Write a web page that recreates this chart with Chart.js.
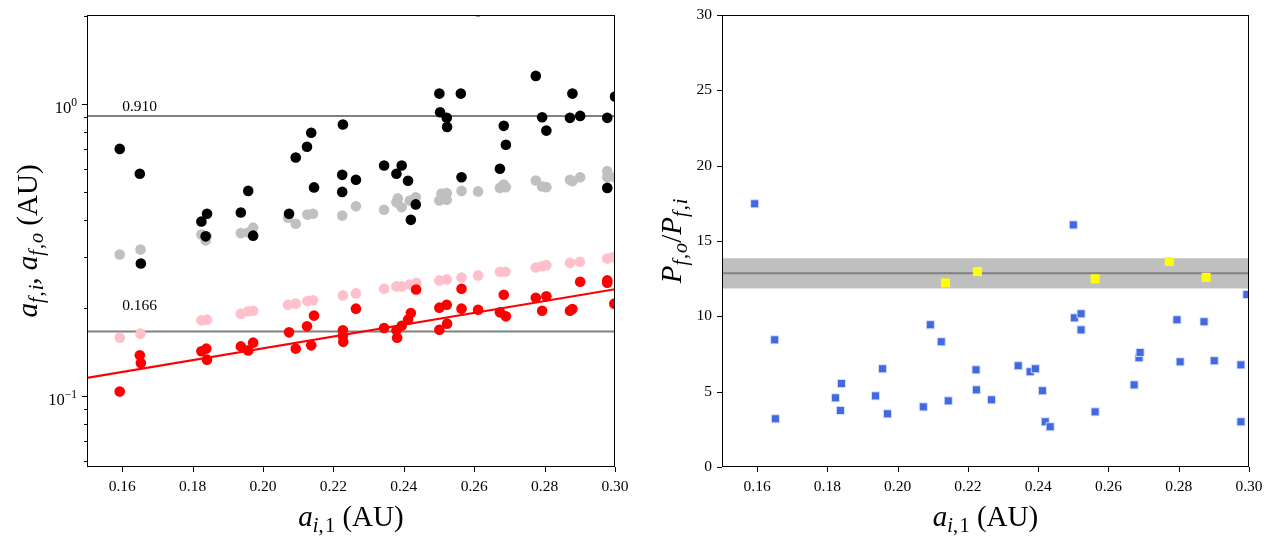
<!DOCTYPE html>
<html><head><meta charset="utf-8">
<script src="https://cdn.jsdelivr.net/npm/chart.js@4/dist/chart.umd.min.js"></script>
<style>
html,body{margin:0;padding:0;background:#fff;}
#wrap{position:relative;width:1273px;height:539px;background:#fff;}
#c1{position:absolute;left:0;top:0;}
#c2{position:absolute;left:640px;top:0;}
</style></head><body>
<div id="wrap"><canvas id="c1" width="640" height="539"></canvas><canvas id="c2" width="633" height="539"></canvas></div>
<script>
// ---------- data ----------
const xTickValues = [0.16,0.18,0.20,0.22,0.24,0.26,0.28,0.30];
const logTicks = [0.06,0.07,0.08,0.09,0.1,0.2,0.3,0.4,0.5,0.6,0.7,0.8,0.9,1,2];
const logMajor = [0.1,1];
const logMajorLabels = [['10','\u22121'],['10','0']];
const ratioTicks = [0,5,10,15,20,25,30];

const blackX = [0.1593,0.1650,0.1653,0.1825,0.1841,0.1837,0.1937,0.1958,0.1972,0.2074,0.2093,0.2125,0.2137,0.2145,0.2227,0.2225,0.2225,0.2264,0.2344,0.2379,0.2394,0.2412,0.2434,0.2420,0.2501,0.2503,0.2522,0.2523,0.2562,0.2564,0.2611,0.2673,0.2684,0.2690,0.2775,0.2793,0.2805,0.2879,0.2872,0.2901,0.2978,0.2978,0.3000];
const blackY = [0.702,0.577,0.284,0.396,0.421,0.352,0.425,0.504,0.354,0.421,0.656,0.714,0.797,0.518,0.851,0.572,0.500,0.550,0.616,0.577,0.616,0.546,0.453,0.401,1.086,0.937,0.897,0.835,1.086,0.561,2.08,0.600,0.842,0.725,1.249,0.901,0.811,1.086,0.897,0.911,0.897,0.516,1.061];

const greyX = [0.1593,0.1652,0.1825,0.1837,0.1840,0.1937,0.1958,0.1972,0.2071,0.2093,0.2126,0.2142,0.2225,0.2264,0.2344,0.2379,0.2394,0.2383,0.2417,0.2434,0.2501,0.2507,0.2522,0.2522,0.2564,0.2611,0.2673,0.2684,0.2690,0.2775,0.2793,0.2805,0.2872,0.2879,0.2901,0.2978,0.2978,0.3000];
const greyY = [0.305,0.317,0.357,0.341,0.352,0.361,0.363,0.377,0.408,0.389,0.418,0.421,0.415,0.446,0.434,0.461,0.443,0.475,0.467,0.479,0.467,0.493,0.495,0.470,0.504,0.502,0.516,0.530,0.519,0.547,0.522,0.519,0.550,0.544,0.561,0.589,0.561,0.561];

const pinkX = [0.1593,0.1652,0.1825,0.1841,0.1937,0.1958,0.1972,0.2071,0.2093,0.2126,0.2142,0.2227,0.2264,0.2344,0.2379,0.2394,0.2417,0.2436,0.2501,0.2522,0.2564,0.2611,0.2673,0.2689,0.2775,0.2793,0.2805,0.2872,0.2900,0.2978,0.2995];
const pinkY = [0.1582,0.1633,0.1814,0.1824,0.1912,0.1947,0.1957,0.2052,0.2069,0.2112,0.2124,0.2209,0.2244,0.2328,0.2371,0.2371,0.2408,0.2441,0.2486,0.2506,0.2545,0.2586,0.2662,0.2662,0.2754,0.2782,0.2804,0.2858,0.2881,0.2957,0.2987];

const redX = [0.1593,0.1650,0.1653,0.1825,0.1839,0.1841,0.1937,0.1958,0.1972,0.2074,0.2093,0.2125,0.2137,0.2145,0.2227,0.2227,0.2228,0.2264,0.2344,0.2379,0.2381,0.2394,0.2412,0.2420,0.2435,0.2501,0.2522,0.2501,0.2523,0.2564,0.2564,0.2611,0.2673,0.2690,0.2684,0.2775,0.2805,0.2793,0.2872,0.2879,0.2901,0.2978,0.2978,0.2998];
const redY = [0.1034,0.1376,0.1295,0.1421,0.1451,0.1330,0.1477,0.1431,0.1521,0.1650,0.1451,0.1730,0.1489,0.1883,0.1676,0.1605,0.1531,0.1989,0.1707,0.1676,0.1582,0.1739,0.1824,0.1921,0.2315,0.2005,0.2052,0.1685,0.1767,0.2328,0.1989,0.1973,0.1932,0.1872,0.2221,0.2169,0.2192,0.1957,0.1957,0.1983,0.2461,0.2486,0.2441,0.2069];

const fitX = [0.15,0.30];
const fitY = [0.1152,0.2319];

const refLevels = [0.910,0.166];
const refLabels = ['0.910','0.166'];
const refLabelX = [0.16,0.16];
const refLabelY = [0.95,0.197];

const blueX = [0.1593,0.1650,0.1652,0.1823,0.1840,0.1837,0.1937,0.1957,0.1971,0.2073,0.2093,0.2124,0.2144,0.2223,0.2224,0.2267,0.2343,0.2377,0.2392,0.2412,0.2420,0.2434,0.2500,0.2503,0.2522,0.2522,0.2562,0.2673,0.2687,0.2690,0.2795,0.2804,0.2872,0.2901,0.2977,0.2977,0.2994];
const blueY = [17.47,8.44,3.20,4.59,5.54,3.75,4.72,6.52,3.53,3.99,9.44,8.31,4.39,6.45,5.12,4.46,6.72,6.32,6.52,5.06,3.00,2.67,16.07,9.90,10.17,9.10,3.66,5.45,7.25,7.60,9.77,6.98,9.64,7.05,6.78,3.00,11.45];

const yellowX = [0.2136,0.2227,0.2562,0.2773,0.2878];
const yellowY = [12.22,12.97,12.49,13.64,12.59];

const bandLow = 11.85, bandHigh = 13.85, bandMid = 12.86;

// titles (rich text segments)
const xTitleSegs = [{t:'a',it:1},{t:'i',it:1,sub:1},{t:',',sub:1,gap:1.5},{t:'1',sub:1},{t:' (AU)'}];
const yTitleLeftSegs = [{t:'a',it:1},{t:'f',it:1,sub:1,gap:1},{t:',',sub:1,gap:1},{t:'i',it:1,sub:1},{t:', '},{t:'a',it:1},{t:'f',it:1,sub:1,gap:1},{t:',',sub:1,gap:1},{t:'o',it:1,sub:1},{t:' (AU)'}];
const yTitleRightSegs = [{t:'P',it:1},{t:'f',it:1,sub:1,gap:1},{t:',',sub:1,gap:1},{t:'o',it:1,sub:1},{t:'/'},{t:'P',it:1},{t:'f',it:1,sub:1,gap:1},{t:',',sub:1,gap:1},{t:'i',it:1,sub:1}];

// ---------- helpers ----------
const FONT = '"Liberation Serif", "Times New Roman", serif';
const TICKSIZE = 15.5, POWSIZE = 16.5, TITLESIZE = 29;
const pts = (xs, ys) => xs.map((x, i) => ({x: x, y: ys[i]}));

function segFont(s, base) {
  const size = (s.sub || s.sup) ? base * 0.7 : base;
  return (s.it ? 'italic ' : '') + size + 'px ' + FONT;
}
function drawRich(ctx, segs, cx, cy, base, rot) {
  ctx.save();
  ctx.translate(cx, cy);
  if (rot) ctx.rotate(-Math.PI / 2);
  const widths = segs.map(s => { ctx.font = segFont(s, base); return ctx.measureText(s.t).width + (s.gap || 0); });
  const total = widths.reduce((a, b) => a + b, 0);
  let x = -total / 2;
  ctx.textBaseline = 'alphabetic';
  ctx.textAlign = 'left';
  ctx.fillStyle = '#000';
  segs.forEach((s, i) => {
    ctx.font = segFont(s, base);
    const dy = s.sub ? base * 0.2 : (s.sup ? -base * 0.4 : 0);
    ctx.fillText(s.t, x, dy);
    x += widths[i];
  });
  ctx.restore();
}
function hline(ctx, x1, y1, x2, y2) { ctx.beginPath(); ctx.moveTo(x1, y1); ctx.lineTo(x2, y2); ctx.stroke(); }

function xScaleOpts(h) {
  return {
    type: 'linear', min: 0.15, max: 0.30,
    afterBuildTicks: s => { s.ticks = xTickValues.map(v => ({value: v})); },
    afterFit: s => { s.height = h; },
    grid: {display: false, drawTicks: true, tickLength: 5},
    border: {display: false},
    ticks: {autoSkip: false, maxRotation: 0, padding: 6, color: '#000',
      font: {family: FONT, size: TICKSIZE}, callback: v => Number(v).toFixed(2)}
  };
}

const framePlugin = {
  id: 'frame',
  afterDraw(chart) {
    const ctx = chart.ctx, a = chart.chartArea, xs = chart.scales.x, ys = chart.scales.y;
    const isLeft = chart.canvas.id === 'c1';
    ctx.save();
    ctx.strokeStyle = '#000';
    ctx.lineWidth = 1;
    ctx.strokeRect(a.left + 0.5, a.top + 0.5, a.right - a.left - 1, a.bottom - a.top - 1);
    xTickValues.forEach(v => { const p = Math.round(xs.getPixelForValue(v)) + 0.5; hline(ctx, p, a.bottom, p, a.bottom + 5); });
    if (isLeft) {
      logTicks.forEach(v => {
        const p = Math.round(ys.getPixelForValue(v)) + 0.5;
        if (p < a.top || p > a.bottom) return;
        const len = logMajor.includes(v) ? 5 : 3;
        hline(ctx, a.left, p, a.left - len, p);
      });
      // major log labels 10^n
      logMajor.forEach((v, i) => {
        const p = ys.getPixelForValue(v);
        const base = logMajorLabels[i][0], ex = logMajorLabels[i][1];
        ctx.font = (POWSIZE * 0.7) + 'px ' + FONT;
        const ew = ctx.measureText(ex).width;
        const right = a.left - 10;
        ctx.fillStyle = '#000';
        ctx.textBaseline = 'alphabetic';
        ctx.textAlign = 'right';
        ctx.fillText(ex, right, p + 2);
        ctx.font = POWSIZE + 'px ' + FONT;
        ctx.fillText(base, right - ew, p + 9);
      });
      // reference labels
      ctx.font = TICKSIZE + 'px ' + FONT;
      ctx.textAlign = 'left';
      ctx.textBaseline = 'alphabetic';
      refLabels.forEach((t, i) => {
        ctx.fillText(t, xs.getPixelForValue(refLabelX[i]), ys.getPixelForValue(refLabelY[i]));
      });
      drawRich(ctx, xTitleSegs, (a.left + a.right) / 2, 526, TITLESIZE, false);
      drawRich(ctx, yTitleLeftSegs, 37, (a.top + a.bottom) / 2, TITLESIZE, true);
    } else {
      ratioTicks.forEach(v => { const p = Math.round(ys.getPixelForValue(v)) + 0.5; hline(ctx, a.left, p, a.left - 5, p); });
      drawRich(ctx, xTitleSegs, (a.left + a.right) / 2, 526, TITLESIZE, false);
      drawRich(ctx, yTitleRightSegs, 41, (a.top + a.bottom) / 2, TITLESIZE, true);
    }
    ctx.restore();
  }
};

Chart.defaults.font.family = FONT;

// ---------- left chart ----------
const leftDatasets = [
  {label: 'black', data: pts(blackX, blackY), backgroundColor: '#000000', borderWidth: 0, pointRadius: 5.3, order: 1, clip: 0},
  {label: 'red', data: pts(redX, redY), backgroundColor: '#ff0000', borderWidth: 0, pointRadius: 5.3, order: 1, clip: 0},
  {label: 'grey', data: pts(greyX, greyY), backgroundColor: '#c0c0c0', borderWidth: 0, pointRadius: 5.3, order: 2, clip: 0},
  {label: 'pink', data: pts(pinkX, pinkY), backgroundColor: '#ffc0cb', borderWidth: 0, pointRadius: 5.3, order: 2, clip: 0},
  {label: 'fit', type: 'line', data: pts(fitX, fitY), borderColor: '#ff0000', borderWidth: 2.2, pointRadius: 0, fill: false, order: 3, clip: 0}
];
refLevels.forEach((lv, i) => leftDatasets.push({
  label: 'ref' + i, type: 'line', data: [{x: 0.15, y: lv}, {x: 0.30, y: lv}],
  borderColor: '#808080', borderWidth: 2, pointRadius: 0, fill: false, order: 4, clip: 0
}));

new Chart(document.getElementById('c1'), {
  type: 'scatter',
  data: {datasets: leftDatasets},
  options: {
    responsive: false, animation: false, devicePixelRatio: 1,
    layout: {padding: {left: 0, top: 15, right: 25, bottom: 0}},
    plugins: {legend: {display: false}, tooltip: {enabled: false}},
    scales: {
      x: xScaleOpts(72),
      y: {
        type: 'logarithmic', min: 0.057, max: 2.02,
        afterBuildTicks: s => { s.ticks = logTicks.map(v => ({value: v})); },
        afterFit: s => { s.width = 87; },
        grid: {display: false, drawTicks: true, tickLength: 5},
        border: {display: false},
        ticks: {display: false}
      }
    }
  },
  plugins: [framePlugin]
});

// ---------- right chart ----------
new Chart(document.getElementById('c2'), {
  type: 'scatter',
  data: {datasets: [
    {label: 'yellow', data: pts(yellowX, yellowY), pointStyle: 'rect', backgroundColor: '#ffff00', borderWidth: 0, pointRadius: 6.4, order: 1, clip: 0},
    {label: 'blue', data: pts(blueX, blueY), pointStyle: 'rect', backgroundColor: '#4169e1', borderColor: 'rgba(220,228,250,0.9)', borderWidth: 1, pointRadius: 5.7, order: 1, clip: 0},
    {label: 'mid', type: 'line', data: [{x: 0.15, y: bandMid}, {x: 0.30, y: bandMid}], borderColor: '#808080', borderWidth: 2, pointRadius: 0, fill: false, order: 3, clip: 0},
    {label: 'band', type: 'line', data: [{x: 0.15, y: bandHigh}, {x: 0.30, y: bandHigh}], borderWidth: 0, borderColor: 'rgba(0,0,0,0)', backgroundColor: '#bfbfbf', pointRadius: 0, fill: {value: bandLow}, order: 4, clip: 0}
  ]},
  options: {
    responsive: false, animation: false, devicePixelRatio: 1,
    layout: {padding: {left: 0, top: 15, right: 24, bottom: 0}},
    plugins: {legend: {display: false}, tooltip: {enabled: false}},
    scales: {
      x: xScaleOpts(72),
      y: {
        type: 'linear', min: 0, max: 30,
        afterBuildTicks: s => { s.ticks = ratioTicks.map(v => ({value: v})); },
        afterFit: s => { s.width = 82; },
        grid: {display: false, drawTicks: true, tickLength: 5},
        border: {display: false},
        ticks: {autoSkip: false, padding: 5, color: '#000', font: {family: FONT, size: TICKSIZE}, callback: v => String(v)}
      }
    }
  },
  plugins: [framePlugin]
});
</script>
</body></html>
